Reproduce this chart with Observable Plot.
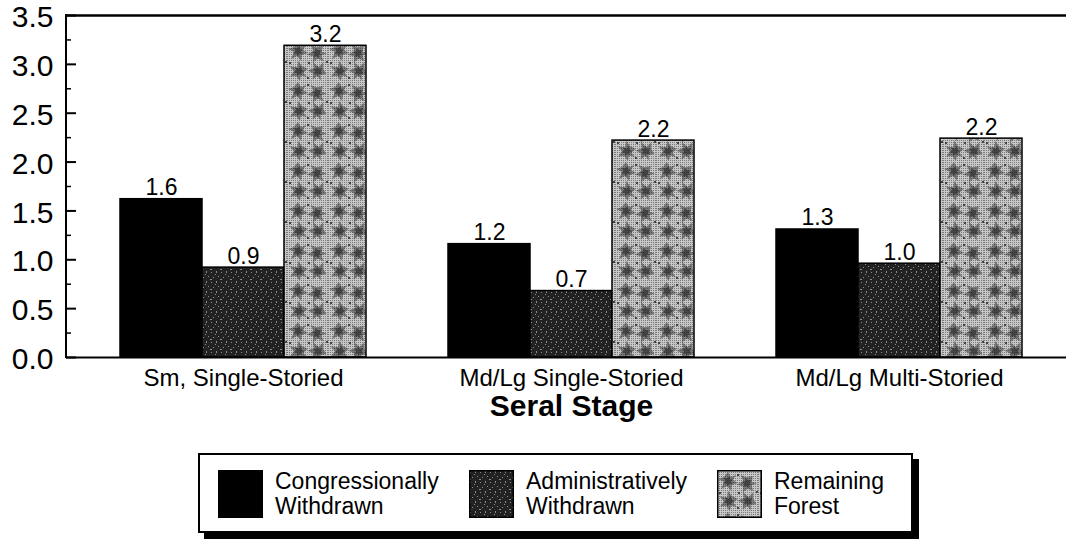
<!DOCTYPE html>
<html>
<head>
<meta charset="utf-8">
<script src="https://cdn.jsdelivr.net/npm/d3@7"></script>
<script src="https://cdn.jsdelivr.net/npm/@observablehq/plot@0.6"></script>
<style>
  html, body { margin: 0; padding: 0; background: #fff; overflow: hidden; }
  body { width: 1066px; height: 542px; position: relative; font-family: "Liberation Sans", Arial, sans-serif; }
  #chart { position: absolute; left: 0; top: 0; }
  #legend {
    position: absolute; left: 198px; top: 453px; width: 711px; height: 76px;
    border: 2px solid #000; background: #fff; box-shadow: 6px 6px 0 #000;
  }
  .item { position: absolute; top: 14px; display: flex; align-items: center; gap: 12px; }
  .item svg { display: block; }
  .item span { font-size: 23px; line-height: 25px; color: #000; }
</style>
</head>
<body>
<div id="chart"></div>
<div id="legend"></div>
<script>
// ---- data ----
const stages = ["Sm, Single-Storied", "Md/Lg Single-Storied", "Md/Lg Multi-Storied"];
const series = ["Congressionally Withdrawn", "Administratively Withdrawn", "Remaining Forest"];
const legendLines = [["Congressionally", "Withdrawn"], ["Administratively", "Withdrawn"], ["Remaining", "Forest"]];
const congressional = [1.62, 1.16, 1.31];
const administrative = [0.92, 0.68, 0.96];
const remaining = [3.19, 2.22, 2.24];
const yTicks = [0, 0.5, 1.0, 1.5, 2.0, 2.5, 3.0, 3.5];
const yMinorTicks = [0.25, 0.75, 1.25, 1.75, 2.25, 2.75, 3.25];
const xLabel = "Seral Stage";

// ---- build table ----
const valuesBySeries = [congressional, administrative, remaining];
const key = (s, k) => s + "|" + k;
const data = [];
stages.forEach((s, i) => series.forEach((k, j) => data.push({stage: s, series: k, key: key(s, k), value: valuesBySeries[j][i]})));
const xDomain = [];
stages.forEach((s, i) => {
  series.forEach(k => xDomain.push(key(s, k)));
  if (i < stages.length - 1) xDomain.push("gap" + i);
});
const midKeys = stages.map(s => key(s, series[1]));
const stageOf = Object.fromEntries(midKeys.map((k, i) => [k, stages[i]]));
const fills = ["#000", "url(#patAdmin)", "url(#patRemain)"];

const font = "'Liberation Sans', Arial, sans-serif";

const plot = Plot.plot({
  width: 1066,
  height: 440,
  marginTop: 15,
  marginLeft: 66,
  marginRight: 0,
  marginBottom: 83,
  style: {fontFamily: font, color: "#000", background: "#fff"},
  x: {domain: xDomain, padding: 0, paddingOuter: 0.59, align: 0.547},
  y: {domain: [0, 3.5]},
  color: {domain: series, range: fills},
  marks: [
    Plot.barY(data, {x: "key", y: "value", fill: "series", stroke: "#000", strokeWidth: 1.5}),
    Plot.text(data, {x: "key", y: "value", text: d => d.value.toFixed(1), lineAnchor: "bottom", dy: -4, fontSize: 23, fill: "#000"}),
    Plot.ruleY([3.5], {stroke: "#000", strokeWidth: 2.5}),
    Plot.ruleY([0], {stroke: "#000", strokeWidth: 2}),
    (index, scales, values, dims) => {
      const x0 = dims.marginLeft;
      return d3.create("svg:line")
        .attr("x1", x0).attr("x2", x0)
        .attr("y1", scales.y(3.5) - 1).attr("y2", scales.y(0) + 1)
        .attr("stroke", "#000").attr("stroke-width", 2).node();
    },
    Plot.axisY({ticks: yTicks, tickSize: 10, dx: 10, fill: "none", label: null, strokeWidth: 2}),
    Plot.axisY({ticks: yMinorTicks, tickSize: 5, dx: 5, fill: "none", label: null, strokeWidth: 1.5}),
    Plot.axisY({ticks: yTicks, tickSize: 0, tickPadding: 13, dy: 2, tickFormat: d3.format(".1f"), fontSize: 30, label: null}),
    Plot.axisX({ticks: midKeys, tickSize: 0, tickPadding: 11, tickFormat: k => stageOf[k], fontSize: 24, label: null}),
    Plot.text([xLabel], {x: () => midKeys[1], text: d => d, frameAnchor: "bottom", dy: 58, fontSize: 30, fontWeight: "bold", fill: "#000"})
  ]
});

// ---- fill patterns (style only) ----
const defs = d3.select(plot).insert("svg:defs", ":first-child");
const dith = defs.append("pattern").attr("id", "patDither").attr("patternUnits", "userSpaceOnUse").attr("width", 2).attr("height", 2);
dith.append("rect").attr("width", 2).attr("height", 2).attr("fill", "#c8c8c8");
dith.append("rect").attr("width", 1).attr("height", 1).attr("fill", "#7a7a7a");

const pr = defs.append("pattern").attr("id", "patRemain").attr("patternUnits", "userSpaceOnUse").attr("width", 41).attr("height", 40);
pr.append("rect").attr("width", 41).attr("height", 40).attr("fill", "url(#patDither)");
const sprig = "M0,-9 L3,-4 L8,-6 L5,-1 L10,2 L4,4 L3,10 L-1,5 L-7,8 L-4,1 L-10,-2 L-4,-4 Z";
[[11, 11, 0], [30, 13, 40], [12, 31, 75], [31, 31, 110]].forEach(([cx, cy, r]) => {
  pr.append("path").attr("d", sprig).attr("transform", `translate(${cx},${cy}) rotate(${r})`).attr("fill", "#3a3a3a").attr("opacity", 0.55);
  pr.append("path").attr("d", sprig).attr("transform", `translate(${cx},${cy}) rotate(${r + 20}) scale(0.55)`).attr("fill", "#222").attr("opacity", 0.6);
});
[[20, 4], [2, 22], [21, 22], [39, 21], [20, 37]].forEach(([x, y]) => {
  pr.append("rect").attr("x", x).attr("y", y).attr("width", 2).attr("height", 2).attr("fill", "#444");
});

const pa = defs.append("pattern").attr("id", "patAdmin").attr("patternUnits", "userSpaceOnUse").attr("width", 10).attr("height", 10);
pa.append("rect").attr("width", 10).attr("height", 10).attr("fill", "#222");
[[1, 2, 1, 1], [6, 1, 1, 2], [3, 7, 1, 1], [8, 6, 1, 1], [5, 4, 1, 1], [0, 9, 2, 1]].forEach(([x, y, w, h]) => {
  pa.append("rect").attr("x", x).attr("y", y).attr("width", w).attr("height", h).attr("fill", "#8a8a8a");
});

document.getElementById("chart").appendChild(plot);

// ---- legend ----
const legend = d3.select("#legend");
const itemLefts = [18, 269, 517];
series.forEach((s, i) => {
  const item = legend.append("div").attr("class", "item").style("left", itemLefts[i] + "px");
  const sw = item.append("svg").attr("width", 45).attr("height", 48);
  sw.append("rect").attr("x", 0.75).attr("y", 0.75).attr("width", 43.5).attr("height", 46.5)
    .attr("fill", fills[i]).attr("stroke", "#000").attr("stroke-width", 1.5);
  const span = item.append("span");
  legendLines[i].forEach((line, j) => {
    if (j) span.append("br");
    span.append("tspan").text(line);
  });
});
</script>
</body>
</html>
